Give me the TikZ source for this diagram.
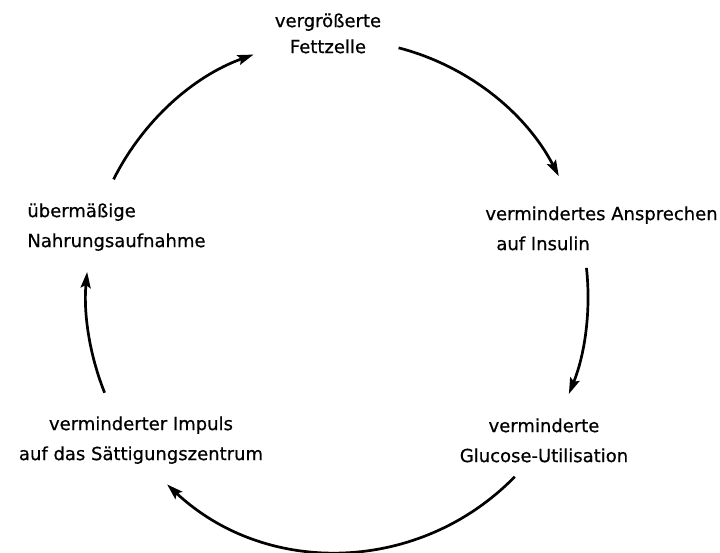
\documentclass[tikz,border=0pt]{standalone}
\usepackage{fontspec}
\setmainfont{DejaVu Sans}[BoldFont=DejaVu Sans, BoldFeatures={FakeBold=0.6}]
\usepackage{tikz}
\usetikzlibrary{arrows.meta}
\tikzset{
  txt/.style={inner sep=0pt, align=center, font=\fontsize{9}{15}\selectfont\bfseries},
  cyc/.style={line width=1.35pt, -{Stealth[length=8pt,width=5pt,inset=1.4pt]}},
}
\begin{document}
\begin{tikzpicture}[x=0.5pt,y=0.5pt]
  \useasboundingbox (0,0) rectangle (720,553);
 %labels
  \node[txt, anchor=north, font=\fontsize{9}{13}\selectfont\bfseries] (fett) at (328,540) {vergrößerte\\Fettzelle};
  \node[txt, anchor=north west, align=left] (insulin) at (485,347) {vermindertes Ansprechen\\\hspace*{5.5pt}auf Insulin};
  \node[txt, anchor=north] (glucose) at (544,135) {verminderte\\Glucose-Utilisation};
  \node[txt, anchor=north] (saett) at (141,137) {verminderter Impuls\\auf das Sättigungszentrum};
  \node[txt, anchor=north west, align=left] (nahrung) at (27,350) {übermäßige\\Nahrungsaufnahme};
 %centre of the cycle
  \coordinate (M) at (337,257);
 %arrows round the cycle
  \path (M) ++(75.8:251 and 256) coordinate (fett-out);
  \draw[cyc] (fett-out) arc[start angle=75.8, end angle=27.9, x radius=251, y radius=256];
  \path (M) ++(6.3:251 and 256) coordinate (insulin-out);
  \draw[cyc] (insulin-out) arc[start angle=6.3, end angle=-22.5, x radius=251, y radius=256];
  \path (M) ++(-44.9:251 and 256) coordinate (glucose-out);
  \draw[cyc] (glucose-out) arc[start angle=-44.9, end angle=-132.6, x radius=251, y radius=256];
  \path (M) ++(202.2:251 and 256) coordinate (saett-out);
  \draw[cyc] (saett-out) arc[start angle=202.2, end angle=174.6, x radius=251, y radius=256];
  \path (M) ++(152.9:251 and 256) coordinate (nahrung-out);
  \draw[cyc] (nahrung-out) arc[start angle=152.9, end angle=109.4, x radius=251, y radius=256];
\end{tikzpicture}
\end{document}
